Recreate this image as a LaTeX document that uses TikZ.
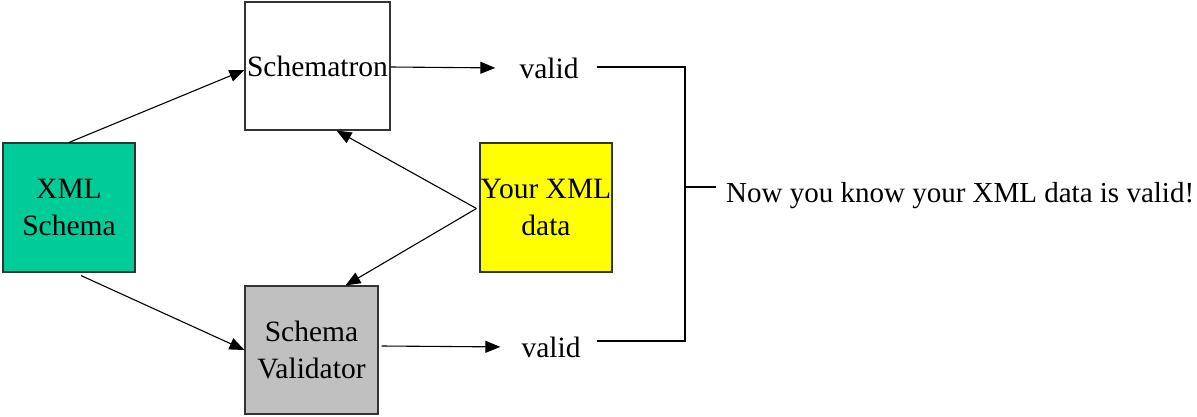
\documentclass[tikz,border=0pt]{standalone}
\usepackage{fontspec}
\setmainfont{Liberation Serif}
\usetikzlibrary{arrows.meta}
\definecolor{schemagreen}{HTML}{00CC99}
\definecolor{datayellow}{HTML}{FFFF00}
\definecolor{valgray}{HTML}{C0C0C0}
\tikzset{
  txt/.style={font=\fontsize{29.5}{36.5}\selectfont, inner sep=0pt},
  box/.style={txt, draw=black!80, line width=1.1pt, align=center},
  conn/.style={line width=1.1pt, -{Triangle[length=15pt,width=12pt]}},
  brk/.style={line width=1.1pt}
}
\begin{document}
\begin{tikzpicture}[x=1pt,y=-1pt]
\useasboundingbox (0,0) rectangle (1197,416);
% boxes
\node[box, fill=white, minimum width=145pt, minimum height=128pt] (sch) at (317.5,66) {Schematron};
\node[box, fill=schemagreen, minimum width=132pt, minimum height=129pt] (xs) at (69,207.5) {XML\\Schema};
\node[box, fill=datayellow, minimum width=132pt, minimum height=129pt] (yx) at (546,207.5) {Your XML\\data};
\node[box, fill=valgray, minimum width=133pt, minimum height=128pt] (val) at (311.5,350) {Schema\\Validator};
% outputs
\node[txt, anchor=base] (v1) at (549,78) {valid};
\node[txt, anchor=base] (v2) at (551,357) {valid};
\node[txt, anchor=base west, font=\fontsize{29}{34}\selectfont] (msg) at (726,202) {Now you know your XML data is valid!};
% connectors
\draw[conn] (xs.north) -- ([yshift=-4]sch.west);
\draw[conn] ([xshift=12,yshift=-3]xs.south) -- (val.west);
\draw[conn] ([xshift=-3,yshift=-1]yx.west) -- ([xshift=19]sch.south);
\draw[conn] ([xshift=-3,yshift=-1]yx.west) -- ([xshift=34]val.north);
\draw[conn] ([yshift=-1]sch.east) -- ([xshift=-24]v1.west);
\draw[conn] ([xshift=3,yshift=4]val.east) -- ([xshift=-21]v2.west);
% bracket
\coordinate (bt) at (685,67);
\coordinate (bb) at (685,341);
\coordinate (bm) at (685,187);
\draw[brk] ([xshift=18]v1.east |- bt) -- (bt) -- (bb) -- ([xshift=16]v2.east |- bb);
\draw[brk] (bm) -- ([xshift=-10]msg.west |- bm);
\end{tikzpicture}
\end{document}
